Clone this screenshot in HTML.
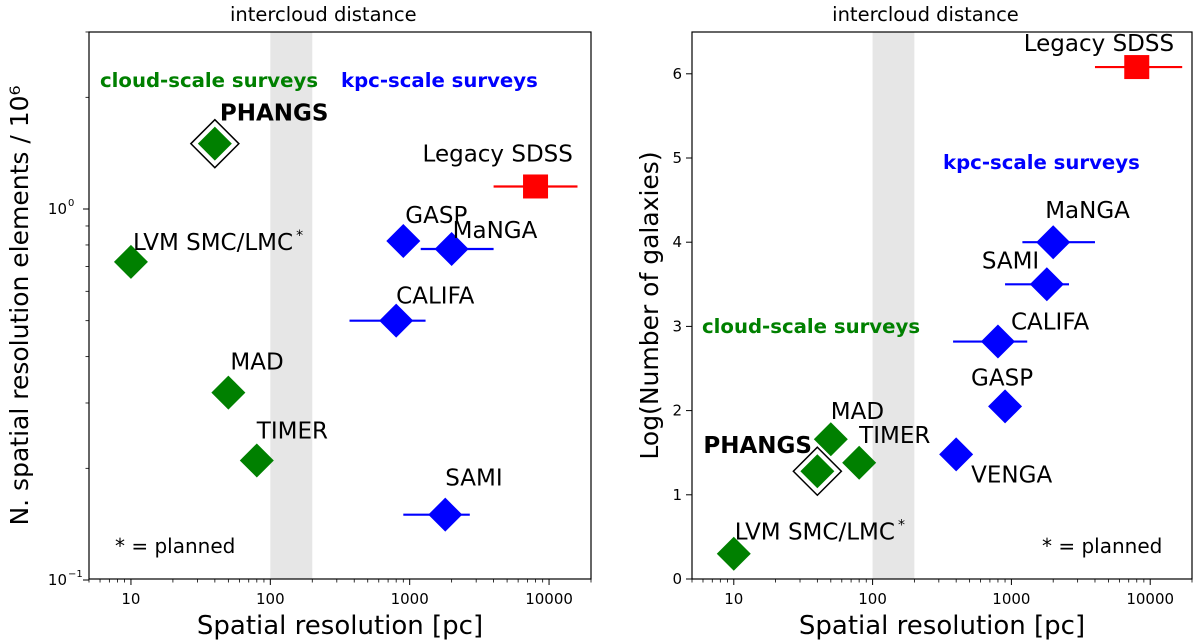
<!DOCTYPE html>
<html><head><meta charset="utf-8"><style>
html,body{margin:0;padding:0;background:#fff}
svg{display:block;font-family:"DejaVu Sans","Liberation Sans",sans-serif}
</style></head><body>
<svg id="fig" width="1200" height="643" viewBox="0 0 1200 643" xmlns="http://www.w3.org/2000/svg"></svg>
<script>
// ---- data: left panel (N spatial resolution elements / 1e6) ----
const leftNames = ["PHANGS","LVM SMC/LMC","MAD","TIMER","GASP","MaNGA","CALIFA","SAMI","Legacy SDSS"];
const leftRes = [40,10,50,80,900,2000,800,1800,8000];
const leftN = [1.5,0.72,0.32,0.21,0.82,0.78,0.5,0.15,1.15];
const leftErrLo = [null,null,null,null,null,1200,370,900,4000];
const leftErrHi = [null,null,null,null,null,4000,1300,2700,16000];
// ---- data: right panel (log number of galaxies) ----
const rightNames = ["PHANGS","LVM SMC/LMC","MAD","TIMER","GASP","VENGA","CALIFA","SAMI","MaNGA","Legacy SDSS"];
const rightRes = [40,10,50,80,900,400,800,1800,2000,8000];
const rightLogN = [1.28,0.3,1.66,1.38,2.05,1.48,2.82,3.5,4.0,6.08];
const rightErrLo = [null,null,null,null,null,null,380,900,1200,4000];
const rightErrHi = [null,null,null,null,null,null,1300,2600,4000,17000];
const xTickVals = [10,100,1000,10000];
const xTickLabels = ["10","100","1000","10000"];
const rightYTicks = [0,1,2,3,4,5,6];

const svg = document.getElementById('fig');
const NS = "http://www.w3.org/2000/svg";
function mk(tag, attrs, parent){const e=document.createElementNS(NS,tag);for(const k in attrs)e.setAttribute(k,attrs[k]);(parent||svg).appendChild(e);return e;}
function txt(s, attrs, parent){const e=mk('text',attrs,parent);e.textContent=s;return e;}
function colorFor(name){ if(name==="Legacy SDSS") return "#ff0000"; if(["PHANGS","LVM SMC/LMC","MAD","TIMER"].includes(name)) return "#008000"; return "#0000ff"; }

function panel(cfg){
  const g = mk('g',{});
  
  
  const L=cfg.L,R=cfg.R,T=32,B=579;
  const lx0=Math.log10(5), lx1=Math.log10(20000);
  const X = v => L + (Math.log10(v)-lx0)/(lx1-lx0)*(R-L);
  const Y = cfg.Y;
  const band = mk('rect',{x:X(100),y:T,width:X(200)-X(100),height:B-T,fill:"#e6e6e6"},g);
  
  
  const bt = txt("intercloud distance",{x:(X(100)+X(200))/2+32,y:21,"font-size":19.5,"text-anchor":"middle",fill:"#000"},g);
  
  
  for(let i=0;i<xTickVals.length;i++){
    const x=X(xTickVals[i]);
    mk('line',{x1:x,x2:x,y1:B,y2:B+6,stroke:"#000","stroke-width":1},g);
    const t=txt(xTickLabels[i],{x:x,y:B+25,"font-size":15,"text-anchor":"middle"},g);
    
    
  }
  for(let d=0; d<5; d++){ for(let m=2;m<=9;m++){ const v=m*Math.pow(10,d); if(v<5||v>20000) continue; const x=X(v); mk('line',{x1:x,x2:x,y1:B,y2:B+3.5,stroke:"#000","stroke-width":0.8},g);} }
  const xl = txt("Spatial resolution [pc]",{x:(L+R)/2,y:634,"font-size":26,"text-anchor":"middle"},g);
  
  
  cfg.yTicks(g,L,B);
  const yl = txt(cfg.ylabel,{x:0,y:0,"font-size":25,"text-anchor":"middle",transform:`translate(${cfg.ylx},${(T+B)/2}) rotate(-90)`},g);
  
  
  for(let i=0;i<cfg.names.length;i++){
    const name=cfg.names[i], c=colorFor(name);
    const cx=X(cfg.res[i]), cy=Y(cfg.vals[i]);
    const mg=mk('g',{},g);
    
    
    if(cfg.lo[i]!==null){ mk('line',{x1:X(cfg.lo[i]),x2:X(cfg.hi[i]),y1:cy,y2:cy,stroke:c,"stroke-width":2.2},mg); }
    if(name==="Legacy SDSS"){ mk('rect',{x:cx-12.5,y:cy-12,width:25,height:24,fill:c},mg); }
    else {
      if(name==="PHANGS"){ const h=24; mk('polygon',{points:`${cx},${cy-h} ${cx+h},${cy} ${cx},${cy+h} ${cx-h},${cy}`,fill:"#fff",stroke:"#000","stroke-width":1.5},mg); }
      const h=17; mk('polygon',{points:`${cx},${cy-h} ${cx+h},${cy} ${cx},${cy+h} ${cx-h},${cy}`,fill:c},mg);
    }
    const off=cfg.off[name];
    const t=txt(name,{x:cx+off[0],y:cy+off[1],"font-size":23,"font-weight":name==="PHANGS"?"bold":"normal"},g);
    
    
    if(name==="LVM SMC/LMC"){ const s=document.createElementNS(NS,'tspan'); s.setAttribute('font-size','14'); s.setAttribute('dy','-10'); s.setAttribute('dx','3'); s.textContent="*"; t.appendChild(s); }
  }
  for(const a of cfg.notes){ const t=txt(a.s,{x:a.x,y:a.y,"font-size":a.fs,"font-weight":a.b?"bold":"normal",fill:a.c},g);   }
  const fr=mk('rect',{x:L,y:T,width:R-L,height:B-T,fill:"none",stroke:"#000","stroke-width":1.2},g);
  
  
}

panel({id:'left',L:89,R:591,names:leftNames,res:leftRes,vals:leftN,lo:leftErrLo,hi:leftErrHi,
  Y:v=>209-Math.log10(v)*371, ylabel:"N. spatial resolution elements / 10\u2076", ylx:28,
  yTicks:(g,L,B)=>{
    const Y=v=>209-Math.log10(v)*371;
    [[1,"10","0"],[0.1,"10","\u22121"]].forEach(([v,b,e])=>{const y=Y(v);mk('line',{x1:L-6,x2:L,y1:y,y2:y,stroke:"#000"},g);
      const t=txt(b,{x:L-22,y:y+5,"font-size":15,"text-anchor":"end"},g);
      txt(e,{x:L-21,y:y-3,"font-size":10},g);});
    for(const v of [0.2,0.3,0.4,0.5,0.6,0.7,0.8,0.9,2,3]){const y=Y(v);mk('line',{x1:L-3.5,x2:L,y1:y,y2:y,stroke:"#000","stroke-width":0.8},g);}
  },
  off:{"PHANGS":[5,-23],"Legacy SDSS":[-113,-25],"LVM SMC/LMC":[2,-12],"GASP":[2,-18],"MaNGA":[1,-11],"CALIFA":[0,-17],"MAD":[2,-23],"TIMER":[0,-22],"SAMI":[0,-29]},
  notes:[{s:"cloud-scale surveys",x:100,y:87,fs:19.7,b:true,c:"#008000",n:'cloud-scale-annotation'},
         {s:"kpc-scale surveys",x:341,y:87,fs:19.7,b:true,c:"#0000ff",n:'kpc-scale-annotation'},
         {s:"* = planned",x:115,y:553,fs:20,c:"#000",n:'planned-note'}]
});
panel({id:'right',L:692,R:1192,names:rightNames,res:rightRes,vals:rightLogN,lo:rightErrLo,hi:rightErrHi,
  Y:v=>579-v*84.2, ylabel:"Log(Number of galaxies)", ylx:658,
  yTicks:(g,L,B)=>{
    for(const v of rightYTicks){const y=579-v*84.2;mk('line',{x1:L-6,x2:L,y1:y,y2:y,stroke:"#000"},g);
      const t=txt(String(v),{x:L-10,y:y+5,"font-size":15,"text-anchor":"end"},g);}
  },
  off:{"PHANGS":[-114,-18],"Legacy SDSS":[-113,-16],"LVM SMC/LMC":[1,-14],"GASP":[-34,-21],"MaNGA":[-8,-24],"CALIFA":[13,-12],"MAD":[0,-20],"TIMER":[0,-20],"SAMI":[-65,-16],"VENGA":[15,28]},
  notes:[{s:"cloud-scale surveys",x:702,y:333,fs:19.7,b:true,c:"#008000",n:'cloud-scale-annotation'},
         {s:"kpc-scale surveys",x:943,y:169,fs:19.7,b:true,c:"#0000ff",n:'kpc-scale-annotation'},
         {s:"* = planned",x:1042,y:553,fs:20,c:"#000",n:'planned-note'}]
});
</script>
</body></html>
